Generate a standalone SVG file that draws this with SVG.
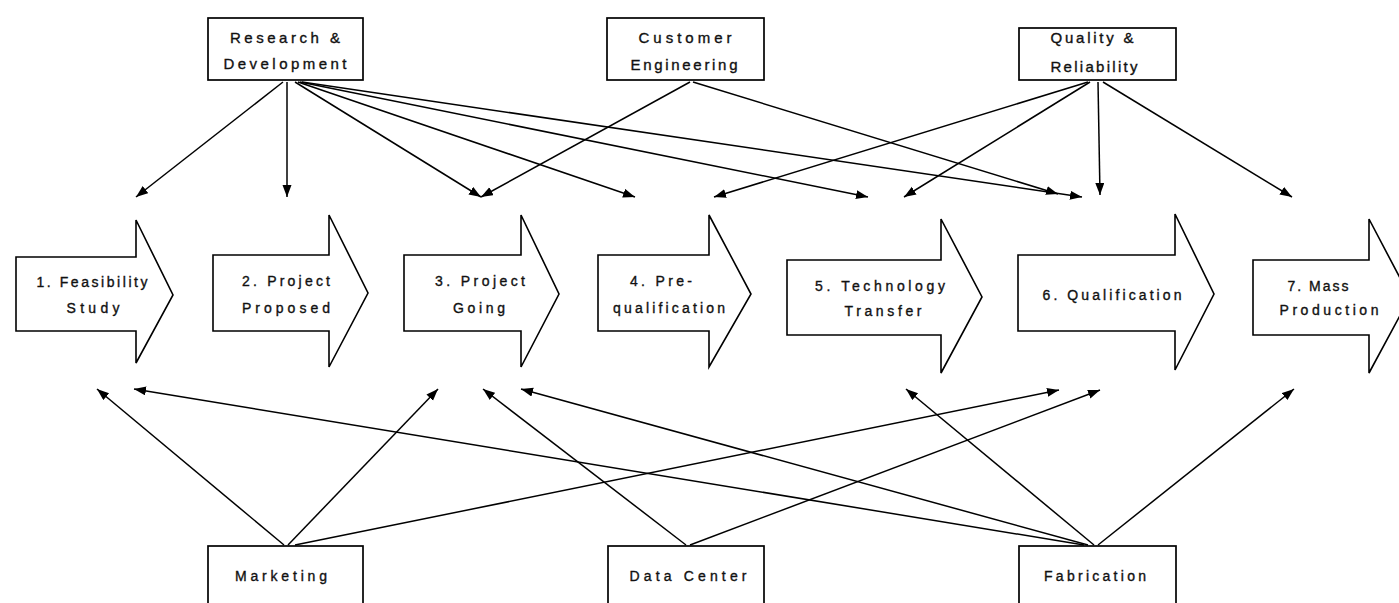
<svg xmlns="http://www.w3.org/2000/svg" width="1399" height="603" viewBox="0 0 1399 603">
  <defs>
    <marker id="head" markerUnits="userSpaceOnUse" markerWidth="13" markerHeight="10" refX="12" refY="4.5" orient="auto">
      <path d="M0,0 L12,4.5 L0,9 z" fill="#000"/>
    </marker>
    <style>
      .box { fill: #fff; stroke: #000; stroke-width: 1.7; }
      .stage { fill: #fff; stroke: #000; stroke-width: 1.6; stroke-linejoin: miter; }
      .lbl { font-family: "Liberation Sans", Arial, sans-serif; font-size: 14px; fill: #111; stroke: #111; stroke-width: 0.35; text-anchor: middle; }
      .dept { font-size: 15px; }
      .link { stroke: #000; stroke-width: 1.5; fill: none; marker-end: url(#head); }
    </style>
  </defs>

  <rect width="1399" height="603" fill="#fff"/>

  <!-- departments feeding the stages from above -->
  <g id="research-development">
    <rect class="box" x="208" y="18" width="155" height="62"/>
    <text class="lbl dept" x="285" y="43" textLength="110" lengthAdjust="spacing">Research &amp;</text>
    <text class="lbl dept" x="285" y="69" textLength="123" lengthAdjust="spacing">Development</text>
  </g>
  <g id="customer-engineering">
    <rect class="box" x="607" y="18" width="157" height="62"/>
    <text class="lbl dept" x="685" y="43" textLength="93" lengthAdjust="spacing">Customer</text>
    <text class="lbl dept" x="684" y="70" textLength="107" lengthAdjust="spacing">Engineering</text>
  </g>
  <g id="quality-reliability">
    <rect class="box" x="1019" y="28" width="157" height="52"/>
    <text class="lbl dept" x="1092" y="43" textLength="83" lengthAdjust="spacing">Quality &amp;</text>
    <text class="lbl dept" x="1094" y="72" textLength="87" lengthAdjust="spacing">Reliability</text>
  </g>

  <!-- project stages -->
  <g id="stage-1">
    <polygon class="stage" points="16,257 136,257 136,220 173,295 136,363 136,331 16,331"/>
    <text class="lbl" x="92" y="287" textLength="111" lengthAdjust="spacing">1. Feasibility</text>
    <text class="lbl" x="93" y="313" textLength="53" lengthAdjust="spacing">Study</text>
  </g>
  <g id="stage-2">
    <polygon class="stage" points="213,255 329,255 329,215 368,293 329,367 329,331 213,331"/>
    <text class="lbl" x="286" y="286" textLength="88" lengthAdjust="spacing">2. Project</text>
    <text class="lbl" x="286" y="313" textLength="88" lengthAdjust="spacing">Proposed</text>
  </g>
  <g id="stage-3">
    <polygon class="stage" points="404,255 521,255 521,215 559,294 521,367 521,331 404,331"/>
    <text class="lbl" x="480" y="286" textLength="90" lengthAdjust="spacing">3. Project</text>
    <text class="lbl" x="479" y="313" textLength="52" lengthAdjust="spacing">Going</text>
  </g>
  <g id="stage-4">
    <polygon class="stage" points="598,255 709,255 709,215 751,294 709,367 709,331 598,331"/>
    <text class="lbl" x="661" y="286" textLength="62" lengthAdjust="spacing">4. Pre-</text>
    <text class="lbl" x="669" y="313" textLength="112" lengthAdjust="spacing">qualification</text>
  </g>
  <g id="stage-5">
    <polygon class="stage" points="787,260 941,260 941,219 982,297 941,373 941,335 787,335"/>
    <text class="lbl" x="880" y="291" textLength="130" lengthAdjust="spacing">5. Technology</text>
    <text class="lbl" x="883" y="316" textLength="77" lengthAdjust="spacing">Transfer</text>
  </g>
  <g id="stage-6">
    <polygon class="stage" points="1018,255 1175,255 1175,214 1214,294 1175,370 1175,331 1018,331"/>
    <text class="lbl" x="1112" y="300" textLength="139" lengthAdjust="spacing">6. Qualification</text>
  </g>
  <g id="stage-7">
    <polygon class="stage" points="1253,260 1369,260 1369,219 1410,297 1369,373 1369,335 1253,335"/>
    <text class="lbl" x="1318" y="291" textLength="61" lengthAdjust="spacing">7. Mass</text>
    <text class="lbl" x="1329" y="315" textLength="99" lengthAdjust="spacing">Production</text>
  </g>

  <!-- departments feeding the stages from below -->
  <g id="marketing">
    <rect class="box" x="208" y="546" width="155" height="70"/>
    <text class="lbl" x="281" y="581" textLength="92" lengthAdjust="spacing">Marketing</text>
  </g>
  <g id="data-center">
    <rect class="box" x="608" y="546" width="156" height="70"/>
    <text class="lbl" x="688" y="581" textLength="117" lengthAdjust="spacing">Data Center</text>
  </g>
  <g id="fabrication">
    <rect class="box" x="1019" y="546" width="157" height="70"/>
    <text class="lbl" x="1095" y="581" textLength="102" lengthAdjust="spacing">Fabrication</text>
  </g>

  <g id="connectors">
    <!-- Research & Development -->
    <line class="link" x1="283" y1="82" x2="136" y2="197"/>
    <line class="link" x1="287" y1="82" x2="287" y2="197"/>
    <line class="link" x1="295" y1="82" x2="481" y2="197"/>
    <line class="link" x1="298" y1="82" x2="635" y2="197"/>
    <line class="link" x1="300" y1="82" x2="868" y2="197"/>
    <line class="link" x1="302" y1="82" x2="1082" y2="197"/>
    <!-- Customer Engineering -->
    <line class="link" x1="690" y1="82" x2="481" y2="197"/>
    <line class="link" x1="693" y1="82" x2="1058" y2="194"/>
    <!-- Quality & Reliability -->
    <line class="link" x1="1088" y1="82" x2="714" y2="197"/>
    <line class="link" x1="1090" y1="82" x2="904" y2="197"/>
    <line class="link" x1="1098" y1="82" x2="1100" y2="195"/>
    <line class="link" x1="1103" y1="82" x2="1292" y2="197"/>
    <!-- Marketing -->
    <line class="link" x1="284" y1="545" x2="97" y2="389"/>
    <line class="link" x1="288" y1="545" x2="438" y2="389"/>
    <line class="link" x1="295" y1="545" x2="1059" y2="390"/>
    <!-- Data Center -->
    <line class="link" x1="686" y1="545" x2="483" y2="389"/>
    <line class="link" x1="690" y1="545" x2="1100" y2="390"/>
    <!-- Fabrication -->
    <line class="link" x1="1084" y1="545" x2="134" y2="389"/>
    <line class="link" x1="1088" y1="545" x2="521" y2="389"/>
    <line class="link" x1="1094" y1="545" x2="906" y2="389"/>
    <line class="link" x1="1098" y1="545" x2="1294" y2="389"/>
  </g>
</svg>
